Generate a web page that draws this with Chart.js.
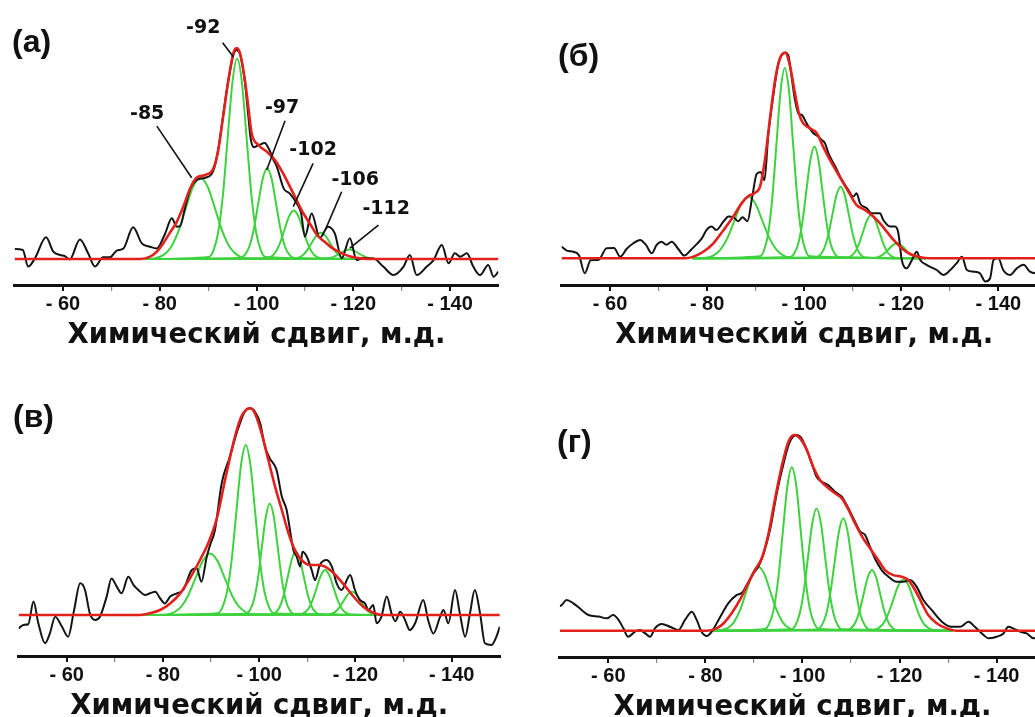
<!DOCTYPE html>
<html>
<head>
<meta charset="utf-8">
<title>29Si MAS NMR</title>
<script src="https://cdn.jsdelivr.net/npm/chart.js@4.4.1/dist/chart.umd.min.js"></script>
<style>
  html, body { margin: 0; padding: 0; background: #fff; }
  body { width: 1035px; height: 717px; overflow: hidden; position: relative; }
  .panel { position: absolute; }
  .tag { position: absolute; font: bold 32px "Liberation Sans", Arial, sans-serif; color: #111; line-height: 32px; white-space: nowrap; }
</style>
</head>
<body>
<div class="panel" style="left:0px;top:0px"><canvas id="cA" width="520" height="360"></canvas></div>
<div class="panel" style="left:520px;top:0px"><canvas id="cB" width="530" height="360"></canvas></div>
<div class="panel" style="left:0px;top:371px"><canvas id="cC" width="520" height="360"></canvas></div>
<div class="panel" style="left:520px;top:372px"><canvas id="cD" width="530" height="360"></canvas></div>
<div class="tag" id="tA" style="left:12px;top:25px"></div>
<div class="tag" id="tB" style="left:558px;top:39px"></div>
<div class="tag" id="tC" style="left:13px;top:400px"></div>
<div class="tag" id="tD" style="left:557px;top:425px"></div>
<script>
// ---- axis ----
const shiftMin = -150, shiftMax = -50;
const majorTicks = [-60, -80, -100, -120, -140];
const minorTicks = [-70, -90, -110, -130];
const tickLabels = ['- 60', '- 80', '- 100', '- 120', '- 140'];
const axisTitle = 'Химический сдвиг, м.д.';
const panelTags = ['(а)', '(б)', '(в)', '(г)'];

// ---- panel (а) ----
const spectrumA = [
  [-50,4.7],[-51.7,4.3],[-52.8,-3.6],[-54.2,0.3],[-56.5,10.3],[-58,3.5],[-59.4,1.9],[-60.4,1.4],[-61.4,-0.2],
  [-63.5,9.3],[-65.2,2.7],[-66.6,-3.6],[-68.3,0.8],[-69.7,0.8],[-71.1,4],[-72.5,5],[-74.5,15],[-76.3,7.4],
  [-78,5.8],[-79.4,5],[-81.1,12],[-82.5,19.3],[-83.5,15.3],[-84.2,15.5],[-85.2,24],[-86.3,33],[-87.7,37.5],
  [-89.4,38.5],[-91.1,42],[-92.1,52],[-93.1,68],[-94.2,85],[-95.2,96.5],[-95.9,99],[-96.6,97],[-97.6,84],
  [-98.3,68],[-98.8,57],[-99.5,53],[-100.5,54],[-101.7,55],[-102.6,52],[-103.5,47],[-104.2,43.8],[-105.6,33.5],
  [-106.9,31],[-108.3,26.4],[-109.2,22],[-110.0,10.6],[-111.4,21.6],[-113.1,10],[-114.8,15.3],[-116.2,12],
  [-117.6,0.3],[-119.3,9.8],[-120.7,-0.5],[-122.1,0.5],[-124.2,0.3],[-126.2,-3.6],[-128.3,-7.6],[-130.4,-3.6],
  [-131.7,1.9],[-133.1,-7.6],[-135.2,-3.6],[-136.6,-0.5],[-138.3,6.6],[-139.7,-2],[-141.0,2.7],[-142.1,1.1],
  [-143.5,2.7],[-144.8,-3.6],[-146.2,-7.6],[-147.9,-2.8],[-149.0,-8.4],[-150,-6]
];
const envelopeA = [
  [-50,0],[-76,0],[-78,1.1],[-79.4,3.5],[-80.7,7.4],[-82.1,12.5],[-83.5,17.5],[-84.9,25],[-86.3,33.5],
  [-87.6,38.5],[-89.4,39.8],[-91.1,43],[-92.1,51.7],[-93.1,67.5],[-94.2,84.8],[-95.2,97.5],[-95.9,100],
  [-96.6,97.5],[-97.6,84.8],[-98.3,72.2],[-99.0,59.6],[-100.4,54],[-102.1,50.9],[-103.8,46.9],[-105.5,40.6],
  [-107.6,31.1],[-109.7,21.6],[-111.1,16.5],[-112.5,11.4],[-113.9,8.5],[-115.2,6],[-116.6,3.8],[-118,2.3],
  [-119.6,1.1],[-121.6,0.3],[-124,0],[-150,0]
];
const peaksA = [
  [[-77,0],[-79.1,0.4],[-80.65,1.7],[-82.2,5.2],[-83.75,12.5],[-85.3,23.4],[-86.85,34.0],[-88.4,38.5],[-89.95,34.0],[-91.5,23.4],[-93.05,12.5],[-94.6,5.2],[-96.15,1.7],[-97.7,0.4],[-124,0]],
  [[-77,0],[-90.15,1.0],[-91.13,4.2],[-92.1,12.9],[-93.08,30.8],[-94.05,57.6],[-95.03,83.8],[-96.0,95],[-96.98,83.8],[-97.95,57.6],[-98.93,30.8],[-99.9,12.9],[-100.88,4.2],[-101.85,1.0],[-124,0]],
  [[-77,0],[-96.65,0.5],[-97.58,1.9],[-98.5,5.8],[-99.43,14.0],[-100.35,26.1],[-101.28,37.9],[-102.2,43],[-103.13,37.9],[-104.05,26.1],[-104.98,14.0],[-105.9,5.8],[-106.83,1.9],[-107.75,0.5],[-124,0]],
  [[-77,0],[-102.0,0.3],[-102.95,1.0],[-103.9,3.1],[-104.85,7.5],[-105.8,14.0],[-106.75,20.3],[-107.7,23],[-108.65,20.3],[-109.6,14.0],[-110.55,7.5],[-111.5,3.1],[-112.45,1.0],[-113.4,0.3],[-124,0]],
  [[-77,0],[-107.6,0.1],[-108.55,0.55],[-109.5,1.7],[-110.45,4.1],[-111.4,7.6],[-112.35,11.0],[-113.3,12.5],[-114.25,11.0],[-115.2,7.6],[-116.15,4.1],[-117.1,1.7],[-118.05,0.55],[-119.0,0.1],[-124,0]],
  [[-77,0],[-113.5,0.05],[-114.45,0.2],[-115.4,0.6],[-116.35,1.5],[-117.3,2.7],[-118.25,4.0],[-119.2,4.5],[-120.15,4.0],[-121.1,2.7],[-122.05,1.5],[-123.0,0.6],[-123.95,0.2],[-125,0]]
];
// peak assignments written next to the fitted lines of panel (а)
const assignText = ['-85', '-92', '-97', '-102', '-106', '-112'];
const assignTextAt = [[-77.4,68.7],[-89.0,109.5],[-105.3,71.3],[-111.7,51.4],[-120.4,37.4],[-126.8,23.5]];
const assignLineFrom = [[-79.4,63],[-93.0,102.5],[-105.9,65.5],[-111.7,45.3],[-117.6,31.9],[-125.2,16.1]];
const assignLineTo = [[-86.6,38.5],[-95.2,95.9],[-102.1,42.2],[-107.6,24.8],[-114.2,13.7],[-119.3,5.1]];

// ---- panel (б) ----
const spectrumB = [
  [-50,5.7],[-51.1,3.7],[-52.4,3.2],[-53.6,1.5],[-54.8,-7.3],[-56.0,-1],[-57.6,-0.8],[-59.3,4.9],[-60.8,5],
  [-62.1,0.8],[-63.4,4.5],[-64.8,7.3],[-66.2,8.9],[-67.4,6.5],[-68.6,2.4],[-69.6,6.5],[-70.6,8.1],[-71.6,6.6],
  [-72.7,8.1],[-74.1,4.4],[-75.3,1.3],[-76.8,4.4],[-77.9,7],[-78.9,9.7],[-79.9,13.8],[-80.9,15.4],[-81.9,13.8],
  [-83.4,18],[-84.4,20.3],[-85.4,20],[-86.4,18],[-87.3,20],[-88.3,18],[-89.3,30],[-90.2,41],[-91.0,42],
  [-91.8,38],[-92.6,60],[-93.7,80.2],[-94.7,94.8],[-96.1,100],[-96.7,98.9],[-97.4,88.3],[-98.1,77],[-98.8,70.5],
  [-99.5,69.7],[-100.5,65.6],[-101.9,60.8],[-102.9,59.2],[-103.6,57.5],[-104.3,55.9],[-105.0,51],[-106.4,44.6],
  [-107.4,39.7],[-109.1,33.2],[-110.1,30],[-110.8,31.6],[-111.5,26.7],[-112.9,24.3],[-113.9,21.9],[-114.6,21.9],
  [-115.6,21.9],[-116.3,18.6],[-117.7,15.4],[-118.7,15.4],[-119.4,12.2],[-120.1,-0.8],[-121.1,-4.9],[-122.2,-0.8],
  [-123.2,3.2],[-123.9,-0.8],[-125.2,-3.2],[-127.3,-5.7],[-128.7,-8.1],[-130.1,-5.7],[-131.4,-2.4],[-132.5,0.8],
  [-133.5,-5.7],[-134.9,-6.5],[-136.2,-7.3],[-137.3,-11.3],[-138.3,-9.7],[-139.0,-0.8],[-140.0,0],[-141.0,-5.7],
  [-142.4,-8.1],[-143.8,-4.9],[-145.2,-3.2],[-146.5,-6.5],[-147.6,-7.3],[-149,-5],[-150,-4]
];
const envelopeB = [
  [-50,0],[-75.5,0],[-77.2,0.8],[-79.2,3.2],[-81.3,7.3],[-83.4,13.8],[-85.4,20.3],[-87.1,26.7],[-88.5,30.3],
  [-89.9,31.9],[-90.9,34.8],[-91.9,47.8],[-93.0,68.9],[-94.0,86.7],[-95.0,97.2],[-96.1,100],[-97.1,93.2],
  [-98.1,80.2],[-99.0,69.7],[-99.8,65.6],[-101.2,63.2],[-102.6,60.8],[-103.9,54.3],[-105.3,47.8],[-106.7,42.1],
  [-108.1,36.5],[-109.5,30.8],[-110.8,25.9],[-112.5,23.5],[-113.9,21.1],[-115.3,17.8],[-117.0,13],[-118.4,8.9],
  [-120.1,4.9],[-121.8,2.1],[-123.9,0.5],[-125.9,0],[-150,0]
];
const peaksB = [
  [[-77,0],[-79.8,0.3],[-81.25,1.3],[-82.7,4.1],[-84.15,9.7],[-85.6,18.2],[-87.05,26.5],[-88.5,30],[-89.95,26.5],[-91.4,18.2],[-92.85,9.7],[-94.3,4.1],[-95.75,1.3],[-97.2,0.3],[-125,0]],
  [[-77,0],[-90.9,1.0],[-91.75,4.1],[-92.6,12.5],[-93.45,30.0],[-94.3,56.1],[-95.15,81.6],[-96.0,92.5],[-96.85,81.6],[-97.7,56.1],[-98.55,30.0],[-99.4,12.5],[-100.25,4.1],[-101.1,1.0],[-125,0]],
  [[-77,0],[-97.15,0.6],[-97.98,2.4],[-98.8,7.3],[-99.63,17.6],[-100.45,32.9],[-101.28,47.9],[-102.1,54.3],[-102.93,47.9],[-103.75,32.9],[-104.58,17.6],[-105.4,7.3],[-106.23,2.4],[-107.05,0.6],[-125,0]],
  [[-77,0],[-102.4,0.4],[-103.25,1.5],[-104.1,4.7],[-104.95,11.3],[-105.8,21.1],[-106.65,30.7],[-107.5,34.8],[-108.35,30.7],[-109.2,21.1],[-110.05,11.3],[-110.9,4.7],[-111.75,1.5],[-112.6,0.4],[-125,0]],
  [[-77,0],[-108.7,0.2],[-109.55,0.9],[-110.4,2.8],[-111.25,6.8],[-112.1,12.7],[-112.95,18.5],[-113.8,21],[-114.65,18.5],[-115.5,12.7],[-116.35,6.8],[-117.2,2.8],[-118.05,0.9],[-118.9,0.2],[-125,0]],
  [[-77,0],[-114.0,0.1],[-114.85,0.3],[-115.7,1.0],[-116.55,2.4],[-117.4,4.4],[-118.25,6.4],[-119.1,7.3],[-119.95,6.4],[-120.8,4.4],[-121.65,2.4],[-122.5,1.0],[-123.35,0.3],[-124.2,0.1],[-125,0]]
];

// ---- panel (в) ----
const spectrumC = [
  [-50,-6.5],[-51,-4.8],[-52,-4.5],[-53.1,6.5],[-54.1,-4],[-55.5,-13.7],[-56.5,-8.9],[-57.6,-0.8],[-59,-5.6],
  [-60.3,-10.5],[-61.5,2],[-62.8,15.3],[-63.8,12.1],[-64.8,0.8],[-65.9,-2.4],[-66.9,-0.8],[-68.3,8.9],[-69.3,17.7],
  [-70.4,13.7],[-71.4,10.5],[-72.8,18.5],[-73.9,14.5],[-74.9,12.1],[-76.3,9.7],[-77.3,10.5],[-78.4,11.3],
  [-79.4,8.1],[-80.4,5.6],[-81.5,8.9],[-82.9,10.5],[-84.2,12.1],[-86,21.8],[-87,22.6],[-88,16.1],[-89.1,28.2],
  [-89.8,33.9],[-90.8,41],[-92.2,63.7],[-93.9,76.6],[-95.3,87.9],[-97,98.4],[-98.1,100],[-99.1,98.4],[-100.2,92.7],
  [-101.2,81.5],[-102.2,75.8],[-103.6,70.2],[-104.7,57.3],[-105.7,50.8],[-106.4,41.1],[-107.1,31.5],[-107.8,28.2],
  [-108.5,23.4],[-109,30.6],[-109.9,28.2],[-110.9,21.8],[-111.6,16.9],[-112.6,24.2],[-114,26.6],[-115.1,23.4],
  [-116.1,15.3],[-117.1,12.1],[-118.9,19.4],[-119.9,12.1],[-120.9,7.3],[-122,5.6],[-122.7,2.4],[-123.7,4.8],
  [-124.4,-4],[-125.4,-0.8],[-126.5,8.9],[-127.5,0.8],[-128.3,-3],[-129.3,1.6],[-130.3,-2.4],[-131.3,-7.3],
  [-132.4,-4],[-134.1,7.3],[-135.1,-2.4],[-136.2,-8.9],[-137.6,-0.8],[-138.3,2.4],[-139.3,-4],[-140.7,12.1],
  [-141.7,0.8],[-142.8,-10.5],[-143.8,0.8],[-144.8,12.1],[-145.9,0.8],[-146.9,-13.7],[-148.3,-14.5],[-149.3,-10.5],
  [-150,-5.6]
];
const envelopeC = [
  [-50,0],[-75.2,0],[-77.3,0.8],[-79.4,2.4],[-81.5,5.6],[-83.5,10.2],[-85.6,17.7],[-87.7,26.6],[-89.4,34.7],
  [-91.2,46.8],[-92.9,65.3],[-94.7,83.9],[-96.0,94.4],[-97.4,99.5],[-98.2,100],[-99.1,97.6],[-100.5,87.9],
  [-101.9,75],[-103.3,62.1],[-104.7,50.8],[-106.1,39.5],[-107.4,31.5],[-108.8,26.6],[-110.6,24.2],[-112.3,24.2],
  [-113.7,23.4],[-115.1,21],[-116.8,16.9],[-118.5,12.1],[-119.9,8.1],[-121.6,4],[-123.7,1.1],[-125.8,0],[-150,0]
];
const peaksC = [
  [[-76,0],[-80.8,0.3],[-82.3,1.3],[-83.8,4.0],[-85.3,9.7],[-86.8,18.1],[-88.3,26.3],[-89.8,29.8],[-91.3,26.3],[-92.8,18.1],[-94.3,9.7],[-95.8,4.0],[-97.3,1.3],[-98.8,0.3],[-125,0]],
  [[-76,0],[-91.35,0.9],[-92.33,3.6],[-93.3,11.1],[-94.28,26.7],[-95.25,49.9],[-96.23,72.6],[-97.2,82.3],[-98.18,72.6],[-99.15,49.9],[-100.13,26.7],[-101.1,11.1],[-102.08,3.6],[-103.05,0.9],[-125,0]],
  [[-76,0],[-97.25,0.6],[-98.08,2.4],[-98.9,7.3],[-99.73,17.5],[-100.55,32.8],[-101.38,47.6],[-102.2,54],[-103.03,47.6],[-103.85,32.8],[-104.68,17.5],[-105.5,7.3],[-106.33,2.4],[-107.15,0.6],[-125,0]],
  [[-76,0],[-102.65,0.3],[-103.48,1.3],[-104.3,4.1],[-105.13,9.9],[-105.95,18.6],[-106.78,27.0],[-107.6,30.6],[-108.43,27.0],[-109.25,18.6],[-110.08,9.9],[-110.9,4.1],[-111.73,1.3],[-112.55,0.3],[-125,0]],
  [[-76,0],[-108.45,0.2],[-109.33,1.0],[-110.2,2.9],[-111.08,7.1],[-111.95,13.2],[-112.83,19.2],[-113.7,21.8],[-114.58,19.2],[-115.45,13.2],[-116.33,7.1],[-117.2,2.9],[-118.08,1.0],[-118.95,0.2],[-125,0]],
  [[-76,0],[-114.05,0.1],[-114.93,0.5],[-115.8,1.5],[-116.68,3.7],[-117.55,6.9],[-118.43,10.0],[-119.3,11.3],[-120.18,10.0],[-121.05,6.9],[-121.93,3.7],[-122.8,1.5],[-123.68,0.5],[-124.55,0.1],[-125,0]]
];

// ---- panel (г) ----
const spectrumD = [
  [-50,12.5],[-50.4,13.1],[-51.4,15.7],[-52.8,14],[-54.5,10.6],[-55.9,8],[-58,7.2],[-59.7,6.3],[-61,8],
  [-62.1,5.5],[-63.1,1.2],[-64.1,-3.1],[-65.5,-0.5],[-66.5,0.3],[-67.6,-1.4],[-68.6,-3.1],[-69.6,1.2],[-71,3.4],
  [-72.7,2],[-74.4,0.3],[-75.8,5.5],[-77.2,9.7],[-78.2,5.5],[-79.2,-0.5],[-80.3,-2.7],[-81.3,-0.5],[-82.7,5.5],
  [-84.7,14],[-86.4,18.2],[-87.6,19.5],[-88.5,23.3],[-89.9,29.3],[-90.9,32.7],[-91.9,38.7],[-93.3,51.4],
  [-94.7,70.2],[-96.1,85.5],[-97.4,96.6],[-98.8,100],[-99.8,98.3],[-100.9,92.3],[-101.9,85.5],[-102.9,78.7],
  [-104,76.1],[-105.3,74.4],[-106.7,71],[-108.1,68.5],[-109.1,64.2],[-110.5,57.4],[-111.9,50.6],[-112.9,48.9],
  [-113.9,42.9],[-114.9,37],[-116.3,31],[-117.7,27.6],[-119.4,25],[-120.8,25],[-122.2,25.9],[-123.5,22.5],
  [-124.9,15.7],[-126.6,10.6],[-128.7,4.6],[-130.7,2],[-132.5,2],[-134.2,4.6],[-135.5,2],[-137.3,-2.2],
  [-138.3,-3.9],[-140,-3.1],[-141.4,-1.4],[-142.4,2],[-143.4,1.2],[-144.8,-0.5],[-146.2,-1.4],[-147.6,-3.9],
  [-148.9,-3.1],[-150,-2.2]
];
const envelopeD = [
  [-50,0],[-80.3,0],[-82.3,1.2],[-83.7,3.7],[-85.4,8.9],[-87.1,15.7],[-88.8,24.2],[-90.2,31],[-91.6,37],
  [-93.0,49.7],[-94.3,66.8],[-95.7,83.8],[-97.1,96.6],[-98.3,100],[-99.5,98.3],[-100.9,92.3],[-102.2,83.8],
  [-103.6,77],[-105.0,73.6],[-106.7,70.2],[-108.1,67.6],[-109.5,61.7],[-110.8,54.9],[-112.5,47.2],[-113.9,42.1],
  [-115.6,36.1],[-117.0,31],[-118.7,28.4],[-120.4,27.6],[-121.8,25.9],[-123.2,20.8],[-124.6,14],[-125.9,8],
  [-127.7,3.7],[-129.7,1.2],[-131.8,0],[-150,0]
];
const peaksD = [
  [[-81,0],[-83.4,0.4],[-84.65,1.4],[-85.9,4.4],[-87.15,10.6],[-88.4,19.8],[-89.65,28.9],[-90.9,32.7],[-92.15,28.9],[-93.4,19.8],[-94.65,10.6],[-95.9,4.4],[-97.15,1.4],[-98.4,0.4],[-131,0]],
  [[-81,0],[-92.25,0.9],[-93.18,3.7],[-94.1,11.3],[-95.03,27.1],[-95.95,50.6],[-96.88,73.7],[-97.8,83.5],[-98.73,73.7],[-99.65,50.6],[-100.58,27.1],[-101.5,11.3],[-102.43,3.7],[-103.35,0.9],[-131,0]],
  [[-81,0],[-97.65,0.7],[-98.53,2.7],[-99.4,8.5],[-100.28,20.3],[-101.15,37.9],[-102.03,55.1],[-102.9,62.5],[-103.78,55.1],[-104.65,37.9],[-105.53,20.3],[-106.4,8.5],[-107.28,2.7],[-108.15,0.7],[-131,0]],
  [[-81,0],[-103.0,0.6],[-103.9,2.5],[-104.8,7.8],[-105.7,18.7],[-106.6,34.8],[-107.5,50.6],[-108.4,57.4],[-109.3,50.6],[-110.2,34.8],[-111.1,18.7],[-112.0,7.8],[-112.9,2.5],[-113.8,0.6],[-131,0]],
  [[-81,0],[-109.2,0.3],[-110.05,1.4],[-110.9,4.2],[-111.75,10.1],[-112.6,18.8],[-113.45,27.3],[-114.3,31],[-115.15,27.3],[-116.0,18.8],[-116.85,10.1],[-117.7,4.2],[-118.55,1.4],[-119.4,0.3],[-131,0]],
  [[-81,0],[-114.5,0.3],[-115.55,1.2],[-116.6,3.5],[-117.65,8.5],[-118.7,15.9],[-119.75,23.1],[-120.8,26.2],[-121.85,23.1],[-122.9,15.9],[-123.95,8.5],[-125.0,3.5],[-126.05,1.2],[-127.1,0.3],[-131,0]]
];

// ---- drawing ----
const COLOR_EXP = '#141414';
const COLOR_FIT = '#e4201c';
const COLOR_PEAK = '#3fd23f';
const TEXT_FONT = '"DejaVu Sans", "Liberation Sans", Arial, sans-serif';
const TICK_FONT = '"Liberation Sans", Arial, sans-serif';

function line(points, color, width, order) {
  return {
    data: points.map(([x, y]) => ({ x, y })),
    borderColor: color,
    borderWidth: width,
    pointRadius: 0,
    fill: false,
    cubicInterpolationMode: 'monotone',
    order
  };
}

const assignments = {
  id: 'assignments',
  afterDatasetsDraw(chart, args, opts) {
    if (!opts || !opts.text) return;
    const { ctx, scales: { x, y } } = chart;
    ctx.save();
    ctx.strokeStyle = '#111';
    ctx.lineWidth = 1.6;
    ctx.fillStyle = '#111';
    ctx.font = 'bold 19px ' + TEXT_FONT;
    ctx.textAlign = 'center';
    ctx.textBaseline = 'middle';
    opts.text.forEach((t, i) => {
      const [fx, fy] = opts.from[i];
      const [tx, ty] = opts.to[i];
      ctx.beginPath();
      ctx.moveTo(x.getPixelForValue(fx), y.getPixelForValue(fy));
      ctx.lineTo(x.getPixelForValue(tx), y.getPixelForValue(ty));
      ctx.stroke();
      const [ax, ay] = opts.at[i];
      ctx.fillText(t, x.getPixelForValue(ax), y.getPixelForValue(ay));
    });
    ctx.restore();
  }
};

function makePanel(canvasId, spectrum, envelope, peaks, layout, extra) {
  const datasets = [
    line(envelope, COLOR_FIT, 2.6, 0),
    line(spectrum, COLOR_EXP, 2, 1),
    ...peaks.map(p => line(p, COLOR_PEAK, 2, 2))
  ];
  return new Chart(document.getElementById(canvasId), {
    type: 'line',
    data: { datasets },
    plugins: [assignments],
    options: {
      responsive: false,
      animation: false,
      events: [],
      layout: { padding: { left: layout.left, right: layout.right, top: 0, bottom: 0 } },
      plugins: {
        legend: { display: false },
        tooltip: { enabled: false },
        assignments: extra || {}
      },
      scales: {
        x: {
          type: 'linear',
          min: shiftMin,
          max: shiftMax,
          reverse: true,
          afterBuildTicks: (scale) => {
            scale.ticks = [...majorTicks, ...minorTicks].sort((a, b) => a - b).map(v => ({ value: v }));
          },
          afterFit: (scale) => { scale.height = 75; },
          ticks: {
            autoSkip: false,
            maxRotation: 0,
            padding: 1,
            color: '#111',
            font: { family: TICK_FONT, size: 20, weight: 'bold' },
            callback: (v) => {
              const i = majorTicks.indexOf(v);
              return i >= 0 ? tickLabels[i] : '';
            }
          },
          grid: {
            drawOnChartArea: false,
            drawTicks: true,
            tickLength: 6,
            color: (c) => (c.tick && majorTicks.includes(c.tick.value)) ? '#111' : '#888',
            lineWidth: (c) => (c.tick && majorTicks.includes(c.tick.value)) ? 2 : 1.2
          },
          border: { display: true, color: '#111', width: 3 },
          title: {
            display: true,
            text: axisTitle,
            color: '#111',
            font: { family: TEXT_FONT, size: 27.5, weight: 'bold' },
            padding: { top: 0, bottom: 8 }
          }
        },
        y: { type: 'linear', display: false, min: layout.yMin, max: layout.yMax }
      }
    }
  });
}

makePanel('cA', spectrumA, envelopeA, peaksA,
  { left: 14.6, right: 21.6, yMin: -12.32, yMax: 122.75 },
  { text: assignText, at: assignTextAt, from: assignLineFrom, to: assignLineTo });
makePanel('cB', spectrumB, envelopeB, peaksB, { left: 41.5, right: 3.1, yMin: -12.99, yMax: 125.6 });
makePanel('cC', spectrumC, envelopeC, peaksC, { left: 18.6, right: 20.2, yMin: -19.84, yMax: 118.05 });
makePanel('cD', spectrumD, envelopeD, peaksD, { left: 39.8, right: 4.8, yMin: -13.44, yMax: 132.2 });

['tA', 'tB', 'tC', 'tD'].forEach((id, i) => { document.getElementById(id).textContent = panelTags[i]; });
</script>
</body>
</html>
